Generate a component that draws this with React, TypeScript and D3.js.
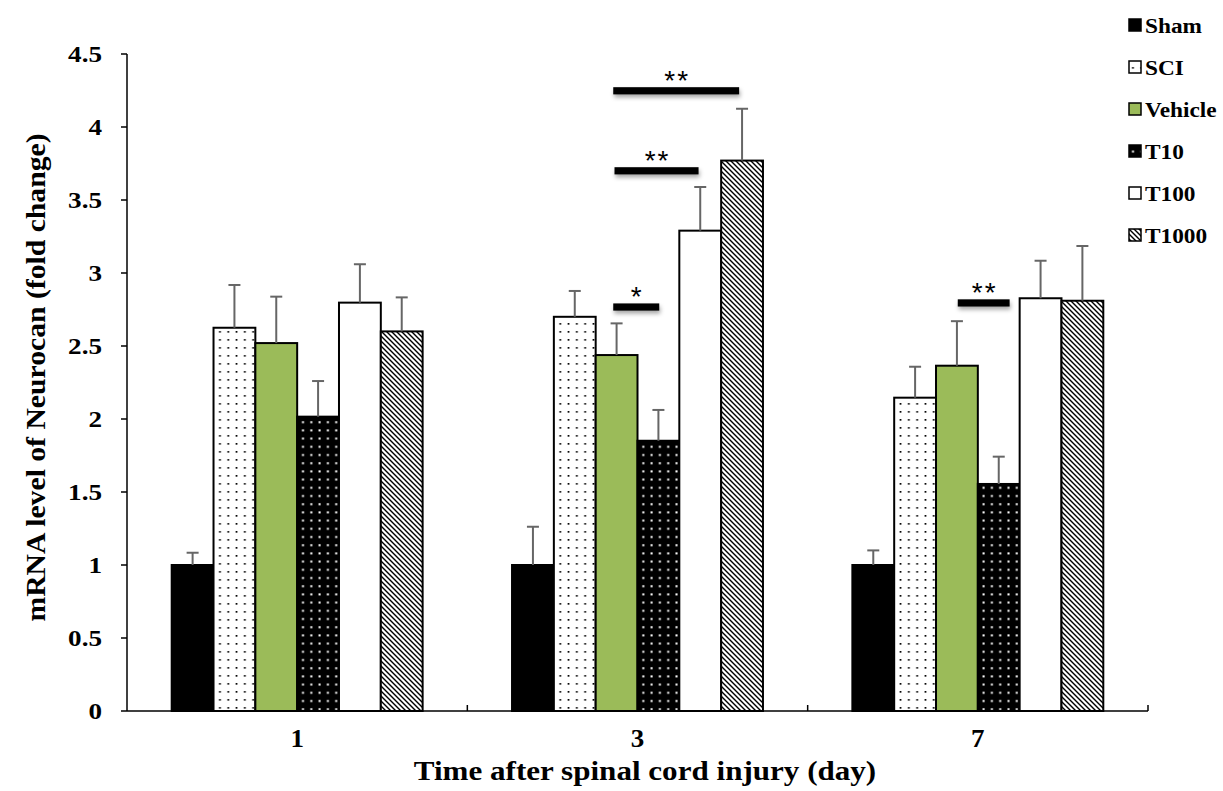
import React from "react";
import * as d3 from "d3";

// ---------- data ----------
const days = ["1", "3", "7"];
const groups = ["Sham", "SCI", "Vehicle", "T10", "T100", "T1000"];

const shamMean = [1.0, 1.0, 1.0];
const shamErr = [0.084, 0.262, 0.1];
const sciMean = [2.625, 2.7, 2.146];
const sciErr = [0.293, 0.177, 0.212];
const vehicleMean = [2.52, 2.438, 2.365];
const vehicleErr = [0.318, 0.217, 0.305];
const t10Mean = [2.016, 1.851, 1.555];
const t10Err = [0.244, 0.211, 0.187];
const t100Mean = [2.797, 3.29, 2.827];
const t100Err = [0.263, 0.299, 0.257];
const t1000Mean = [2.6, 3.77, 2.81];
const t1000Err = [0.233, 0.355, 0.375];

const yTicks = [0, 0.5, 1, 1.5, 2, 2.5, 3, 3.5, 4, 4.5];

// significance bars (positions in bar-index units within a day group)
const sigDay = ["3", "3", "3", "7"];
const sigFrom = [2.42, 2.45, 2.42, 2.52];
const sigTo = [5.43, 4.46, 3.52, 3.76];
const sigValue = [4.248, 3.7, 2.767, 2.795];
const sigLabel = ["**", "**", "*", "**"];

const means = [shamMean, sciMean, vehicleMean, t10Mean, t100Mean, t1000Mean];
const errs = [shamErr, sciErr, vehicleErr, t10Err, t100Err, t1000Err];

// ---------- styles ----------
const fills: Record<string, string> = {
  Sham: "#000000",
  SCI: "url(#pSCI)",
  Vehicle: "#9BBB59",
  T10: "url(#pT10)",
  T100: "#ffffff",
  T1000: "url(#pT1000)",
};

const W = 1223;
const H = 791;
const left = 127;
const right = 1148;
const top = 54;
const bottom = 711;
const groupPad = 44.7;
const serif = "'Liberation Serif', 'Times New Roman', serif";

export default function App() {
  const y = d3.scaleLinear().domain([0, 4.5]).range([bottom, top]);
  const x = d3.scaleBand<string>().domain(days).range([left, right]).padding(0);
  const inner = d3
    .scaleBand<string>()
    .domain(groups)
    .range([groupPad, x.bandwidth() - groupPad])
    .padding(0);
  const barUnit = d3.scaleLinear().domain([0, groups.length]).range([groupPad, x.bandwidth() - groupPad]);

  const bars: any[] = [];
  groups.forEach((g, gi) => {
    days.forEach((d, di) => {
      bars.push({ g, d, v: means[gi][di], e: errs[gi][di] });
    });
  });

  const legendY = d3.scaleLinear().domain([0, 1]).range([25, 67]);

  return (
    <svg
      width={W}
      height={H}
      style={{ position: "absolute", left: 0, top: 0, background: "#fff" }}
      fontFamily={serif}
    >
      <defs>
        <pattern id="pSCI" width={8.3} height={8} patternUnits="userSpaceOnUse">
          <rect width={8.3} height={8} fill="#fff" />
          <rect x={3.3} y={3} width={1.7} height={1.7} fill="#000" />
        </pattern>
        <pattern id="pT10" width={8.3} height={8.2} patternUnits="userSpaceOnUse">
          <rect width={8.3} height={8.2} fill="#000" />
          <rect x={3.2} y={3} width={2} height={2} fill="#fff" />
        </pattern>
        <pattern id="pT1000" width={5} height={5} patternUnits="userSpaceOnUse">
          <rect width={5} height={5} fill="#fff" />
          <path d="M0,0 L5,5 M-1,4 L1,6 M4,-1 L6,1" stroke="#000" strokeWidth={1.4} />
        </pattern>
        <filter id="shadow" x="-20%" y="-100%" width="140%" height="400%">
          <feDropShadow dx={1} dy={3} stdDeviation={2} floodColor="#000" floodOpacity={0.35} />
        </filter>
      </defs>

      {/* bars */}
      {bars.map((b, i) => {
        const bx = (x(b.d) as number) + (inner(b.g) as number);
        return (
          <rect
            key={"bar" + i}
            x={bx}
            y={y(b.v)}
            width={inner.bandwidth()}
            height={y(0) - y(b.v)}
            fill={fills[b.g]}
            stroke="#000"
            strokeWidth={2}
          />
        );
      })}

      {/* error bars */}
      {bars.map((b, i) => {
        const cx = (x(b.d) as number) + (inner(b.g) as number) + inner.bandwidth() / 2;
        return (
          <g key={"err" + i} stroke="#666" strokeWidth={2}>
            <line x1={cx} x2={cx} y1={y(b.v)} y2={y(b.v + b.e)} />
            <line x1={cx - 6} x2={cx + 6} y1={y(b.v + b.e)} y2={y(b.v + b.e)} />
          </g>
        );
      })}

      {/* axes */}
      <line x1={left} x2={left} y1={y(4.5)} y2={y(0)} stroke="#000" strokeWidth={1.5} />
      <line x1={left} x2={right} y1={y(0)} y2={y(0)} stroke="#000" strokeWidth={1.5} />
      {yTicks.map((t) => (
        <g key={"yt" + t}>
          <line x1={left - 6} x2={left} y1={y(t)} y2={y(t)} stroke="#000" strokeWidth={1.5} />
          <text
            transform={`translate(${102},${y(t) + 8}) scale(1.13,1)`}
            textAnchor="end"
            fontSize={24}
            fontWeight="bold"
          >
            {String(t)}
          </text>
        </g>
      ))}
      {days.map((d) => (
        <g key={"xt" + d}>
          <line
            x1={(x(d) as number) + x.bandwidth()}
            x2={(x(d) as number) + x.bandwidth()}
            y1={y(0)}
            y2={y(0) - 6}
            stroke="#000"
            strokeWidth={1.5}
          />
          <text
            transform={`translate(${(x(d) as number) + x.bandwidth() / 2},${747}) scale(1.08,1)`}
            textAnchor="middle"
            fontSize={25}
            fontWeight="bold"
          >
            {d}
          </text>
        </g>
      ))}

      {/* axis titles */}
      <text
        transform={`translate(645,780) scale(1.11,1)`}
        textAnchor="middle"
        fontSize={28}
        fontWeight="bold"
      >
        Time after spinal cord injury (day)
      </text>
      <text
        transform={`translate(45,377.5) rotate(-90) scale(1.06,1)`}
        textAnchor="middle"
        fontSize={28}
        fontWeight="bold"
      >
        mRNA level of Neurocan (fold change)
      </text>

      {/* significance */}
      {sigDay.map((d, i) => {
        const x0 = (x(d) as number) + barUnit(sigFrom[i]);
        const x1 = (x(d) as number) + barUnit(sigTo[i]);
        const yc = y(sigValue[i]);
        return (
          <g key={"sig" + i}>
            <rect x={x0} y={yc - 3.6} width={x1 - x0} height={7.2} fill="#000" filter="url(#shadow)" />
            <text
              x={(x0 + x1) / 2 + 1}
              y={yc - 1}
              textAnchor="middle"
              fontFamily="'Liberation Sans', Arial, sans-serif"
              fontSize={28}
              letterSpacing={2}
            >
              {sigLabel[i]}
            </text>
          </g>
        );
      })}

      {/* legend */}
      {groups.map((g, i) => {
        const cy = legendY(i);
        return (
          <g key={"lg" + g}>
            <rect x={1129} y={cy - 6} width={12} height={12} fill={fills[g]} stroke="#000" strokeWidth={1.5} />
            <text
              transform={`translate(1145,${cy + 7.5}) scale(1.06,1)`}
              fontSize={22}
              fontWeight="bold"
            >
              {g}
            </text>
          </g>
        );
      })}
    </svg>
  );
}
